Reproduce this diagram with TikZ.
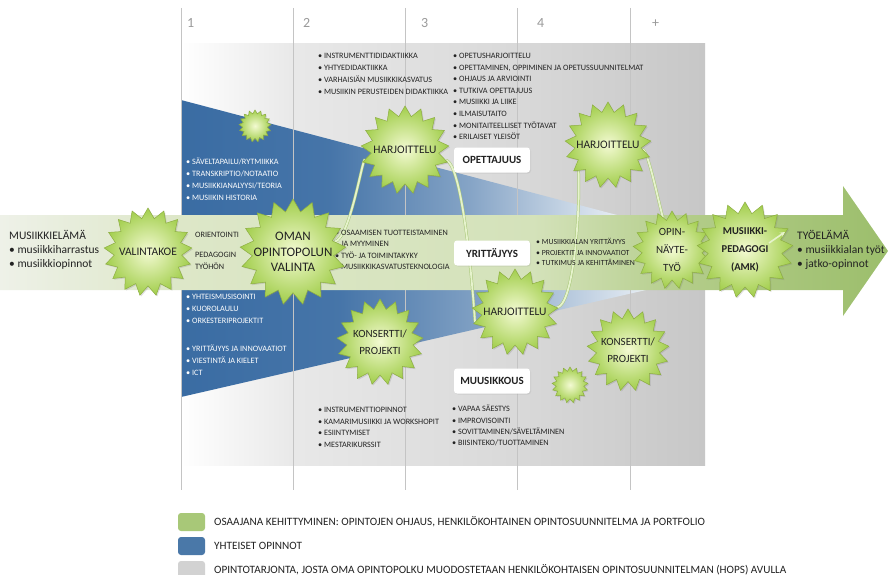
\documentclass[tikz,border=0pt]{standalone}
\usepackage{fontspec}
\setmainfont{Carlito}
\usetikzlibrary{shapes.geometric,shadows,arrows.meta}
\pgfdeclarelayer{bg}
\pgfdeclarelayer{back}
\pgfsetlayers{bg,back,main}
\definecolor{blueA}{HTML}{3A6CA3}
\definecolor{txt}{HTML}{222222}
\definecolor{colnumc}{HTML}{9A9A9A}
\definecolor{colline}{HTML}{C4C4C4}
\definecolor{bandL}{HTML}{EEF1E8}
\definecolor{bandM}{HTML}{DDE7C8}
\definecolor{bandMM}{HTML}{D4E2BA}
\definecolor{bandR}{HTML}{B2CC88}
\definecolor{bandT}{HTML}{9CBE6C}
\definecolor{starC}{HTML}{F3FAD2}
\definecolor{starE}{HTML}{A2CE4C}
\definecolor{starD}{HTML}{8DAE42}
\definecolor{curveL}{HTML}{E6F3CC}
\definecolor{curveD}{HTML}{A9C77A}
\definecolor{legG}{HTML}{A8C878}
\definecolor{legB}{HTML}{4A78A8}
\definecolor{legY}{HTML}{D2D2D2}
\pgfdeclarehorizontalshading{grayfade}{100bp}{color(0bp)=(white); color(25bp)=(white); color(36bp)=(black!9); color(57bp)=(black!15); color(75bp)=(black!22); color(100bp)=(black!22)}
\pgfdeclarehorizontalshading{bluefade}{100bp}{color(0bp)=(blueA); color(25bp)=(blueA); color(42bp)=(blueA!94!white); color(58bp)=(blueA!62!white); color(75bp)=(blueA!12!white); color(100bp)=(blueA!12!white)}
\pgfdeclarehorizontalshading{bandfade}{100bp}{color(0bp)=(bandL); color(25bp)=(bandL); color(35bp)=(bandM); color(55bp)=(bandMM); color(64bp)=(bandR); color(75bp)=(bandT); color(100bp)=(bandT)}
\tikzset{
  lst/.style={anchor=north west, inner sep=0pt, align=left, font=\fontsize{8.2}{12}\selectfont, text=txt},
  wlst/.style={lst, text=white},
  burst/.style={star, star points=17, star point ratio=1.3, minimum size=#1, inner sep=0pt,
    shading=radial, inner color=starC, outer color=starE, draw=starD, line width=0.5pt,
    drop shadow={opacity=0.25, shadow xshift=1.2pt, shadow yshift=-1.2pt}},
  slabel/.style={font=\fontsize{11.5}{15}\selectfont, text=txt, align=center, inner sep=0pt},
  tagbox/.style={fill=white, rounded corners=3pt, minimum width=76pt, minimum height=25pt, inner sep=0pt,
    font=\bfseries\fontsize{11}{12}\selectfont, text=txt,
    drop shadow={opacity=0.15, shadow xshift=1pt, shadow yshift=-1pt}},
  colnum/.style={font=\fontsize{14}{16}\selectfont, text=colnumc, anchor=base west, inner sep=0pt},
  curve/.style={draw=curveD, double=curveL, double distance=1.8pt, line width=0.5pt},
  bigtxt/.style={anchor=north west, inner sep=0pt, align=left, font=\fontsize{11.5}{15}\selectfont, text=txt},
  legbox/.style={rounded corners=3pt, minimum width=27pt, minimum height=18pt, inner sep=0pt},
  legtxt/.style={anchor=west, inner sep=0pt, font=\fontsize{11.2}{12}\selectfont, text=txt},
}
\begin{document}
\begin{tikzpicture}[x=1pt,y=-1pt]
\useasboundingbox (0,0) rectangle (888,575);
\begin{pgfonlayer}{bg}
\fill[white] (0,0) rectangle (888,575);
\shade[shading=grayfade] (181,44) rectangle (705,465);
\shade[shading=bluefade] (181,100) -- (617,215) -- (181,215) -- cycle;
\shade[shading=bluefade] (181,290) -- (646,290) -- (181,397) -- cycle;
\foreach \x in {181,293,405,517,630} \draw[colline, line width=0.6pt] (\x,8) -- (\x,490);
\shade[shading=bandfade] (0,215) -- (843,215) -- (843,186) -- (888,251) -- (843,316) -- (843,290) -- (0,290) -- cycle;
\end{pgfonlayer}

% column numbers
\node[colnum] (n1) at (187,28) {1};
\node[colnum] (n2) at (303,28) {2};
\node[colnum] (n3) at (421,28) {3};
\node[colnum] (n4) at (537,28) {4};
\node[colnum] (n5) at (652,28) {+};

% text lists
\node[bigtxt] (left) at (9,230) {MUSIIKKIELÄMÄ\\[-1pt] • musiikkiharrastus\\[-1pt] • musiikkiopinnot};
\node[bigtxt] (right) at (797,230) {TYÖELÄMÄ\\[-1pt] • musiikkialan työt\\[-1pt] • jatko-opinnot};

\node[wlst] (c1a) at (186,158) {• SÄVELTAPAILU/RYTMIIKKA\\ • TRANSKRIPTIO/NOTAATIO\\ • MUSIIKKIANALYYSI/TEORIA\\ • MUSIIKIN HISTORIA};
\node[wlst] (c1b) at (186,294) {• YHTEISMUSISOINTI\\ • KUOROLAULU\\ • ORKESTERIPROJEKTIT};
\node[wlst] (c1c) at (186,345) {• YRITTÄJYYS JA INNOVAATIOT\\ • VIESTINTÄ JA KIELET\\ • ICT};
\node[lst] (or) at (195,232) {ORIENTOINTI};
\node[lst] (pe) at (195,252) {PEDAGOGIN\\ TYÖHÖN};

\node[lst] (c2a) at (318,53) {• INSTRUMENTTIDIDAKTIIKKA\\ • YHTYEDIDAKTIIKKA\\ • VARHAISIÄN MUSIIKKIKASVATUS\\ • MUSIIKIN PERUSTEIDEN DIDAKTIIKKA};
\node[lst, font=\fontsize{8.2}{11.6}\selectfont] (c3a) at (453,53) {• OPETUSHARJOITTELU\\ • OPETTAMINEN, OPPIMINEN JA OPETUSSUUNNITELMAT\\ • OHJAUS JA ARVIOINTI\\ • TUTKIVA OPETTAJUUS\\ • MUSIIKKI JA LIIKE\\ • ILMAISUTAITO\\ • MONITAITEELLISET TYÖTAVAT\\ • ERILAISET YLEISÖT};
\node[lst, font=\fontsize{8.2}{11.3}\selectfont] (c2b) at (335,230) {• OSAAMISEN TUOTTEISTAMINEN\\ \hphantom{• }JA MYYMINEN\\ • TYÖ- JA TOIMINTAKYKY\\ • MUSIIKKIKASVATUSTEKNOLOGIA};
\node[lst, font=\fontsize{7.8}{10.6}\selectfont] (c3b) at (536,238) {• MUSIIKKIALAN YRITTÄJYYS\\ • PROJEKTIT JA INNOVAATIOT\\ • TUTKIMUS JA KEHITTÄMINEN};
\node[lst, font=\fontsize{8.2}{11.7}\selectfont] (c2c) at (318,407) {• INSTRUMENTTIOPINNOT\\ • KAMARIMUSIIKKI JA WORKSHOPIT\\ • ESIINTYMISET\\ • MESTARIKURSSIT};
\node[lst, font=\fontsize{8.2}{11.4}\selectfont] (c3c) at (452,405) {• VAPAA SÄESTYS\\ • IMPROVISOINTI\\ • SOVITTAMINEN/SÄVELTÄMINEN\\ • BIISINTEKO/TUOTTAMINEN};

% tag boxes
\node[tagbox] (opet) at (492,160) {OPETTAJUUS};
\node[tagbox] (yrit) at (492,253) {YRITTÄJYYS};
\node[tagbox] (muus) at (492,381) {MUUSIKKOUS};

% stars
\node[burst=88pt] (valinta) at (148,252) {};
\node[burst=106pt] (oman) at (293,252) {};
\node[burst=32pt] (small1) at (255,126) {};
\node[burst=88pt] (h1) at (405,150) {};
\node[burst=86pt] (h3) at (608,145) {};
\node[burst=86pt] (h2) at (515,312) {};
\node[burst=86pt] (k1) at (380,342) {};
\node[burst=82pt] (k2) at (628,350) {};
\node[burst=36pt] (small2) at (570,385) {};
\node[burst=78pt] (opin) at (672,250) {};
\node[burst=96pt] (mus) at (745,250) {};

\node[slabel] (valintat) at (valinta) {VALINTAKOE};
\node[slabel, font=\fontsize{13}{15.5}\selectfont] (omant) at (oman) {OMAN\\ OPINTOPOLUN\\ VALINTA};
\node[slabel] (h1t) at (h1) {HARJOITTELU};
\node[slabel] (h2t) at (h2) {HARJOITTELU};
\node[slabel] (h3t) at (h3) {HARJOITTELU};
\node[slabel, font=\fontsize{11}{17}\selectfont] (k1t) at (k1) {KONSERTTI/\\ PROJEKTI};
\node[slabel, font=\fontsize{11}{17}\selectfont] (k2t) at (k2) {KONSERTTI/\\ PROJEKTI};
\node[slabel, font=\fontsize{11}{18}\selectfont] (opint) at (opin) {OPIN-\\ NÄYTE-\\ TYÖ};
\node[slabel, font=\bfseries\fontsize{10.5}{18}\selectfont] (must) at (mus) {MUSIIKKI-\\ PEDAGOGI\\ (AMK)};

% curves under the stars
\begin{pgfonlayer}{back}
\draw[curve] (oman) .. controls (350,238) and (362,160) .. (h1)
  .. controls (465,165) and (475,322) .. (h2)
  .. controls (578,305) and (582,160) .. (h3)
  .. controls (648,150) and (658,200) .. (opin);
\end{pgfonlayer}
\coordinate (mfoot) at (769,243);
\coordinate (mtip) at (785,232);
\draw[draw=curveL, line width=1.6pt, -{Stealth[length=5pt,width=5pt]}] (mfoot) -- (mtip);

% legend
\node[legbox, fill=legG] (lg1) at (191.5,522) {};
\node[legbox, fill=legB] (lg2) at (191.5,546) {};
\node[legbox, fill=legY] (lg3) at (191.5,570) {};
\node[legtxt] (lt1) at (214,522) {OSAAJANA KEHITTYMINEN: OPINTOJEN OHJAUS, HENKILÖKOHTAINEN OPINTOSUUNNITELMA JA PORTFOLIO};
\node[legtxt] (lt2) at (214,546) {YHTEISET OPINNOT};
\node[legtxt] (lt3) at (214,570) {OPINTOTARJONTA, JOSTA OMA OPINTOPOLKU MUODOSTETAAN HENKILÖKOHTAISEN OPINTOSUUNNITELMAN (HOPS) AVULLA};
\end{tikzpicture}
\end{document}
